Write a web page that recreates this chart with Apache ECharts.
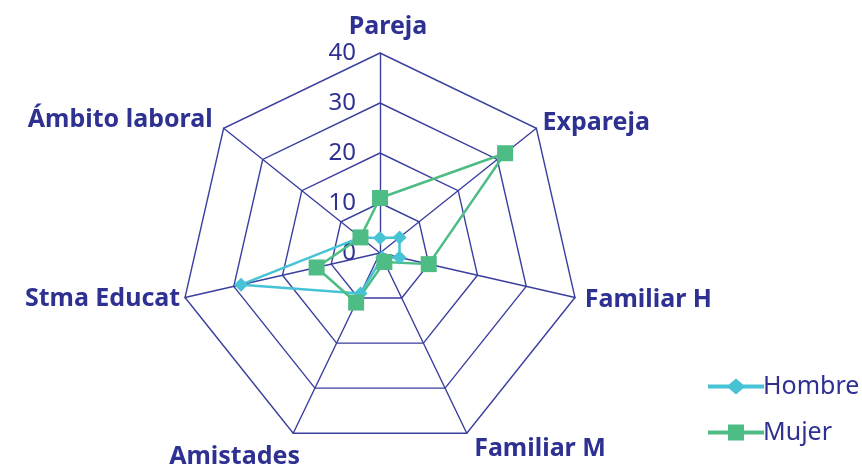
<!DOCTYPE html>
<html>
<head>
<meta charset="utf-8">
<script src="https://cdn.jsdelivr.net/npm/echarts@6/dist/echarts.min.js"></script>
<style>
  html, body { margin: 0; padding: 0; background: #fff; }
  #chart { width: 862px; height: 469px; }
</style>
</head>
<body>
<div id="chart"></div>
<script>
// categories in clockwise order as they appear (starting at the top)
const categories = ["Pareja", "Expareja", "Familiar H", "Familiar M", "Amistades", "Stma Educat", "Ámbito laboral"];
const hombre = [3, 5, 4, 1, 9, 28.5, 5];
const mujer = [11, 32, 10, 2, 11, 13, 5];
const maxValue = 40;

// where each category name sits relative to its spoke end (same clockwise order)
const nameGaps = [14, 8, 10, 17, 26, 5, 14];
const nameAligns = ["center", "left", "left", "left", "right", "right", "right"];
const namePads = [[0, 0, 0, 16], 0, 0, 0, [0, -18, 0, 0], 0, 0];

// echarts draws radar indicators counter-clockwise, so flip everything but the first
const flip = arr => [arr[0]].concat(arr.slice(1).reverse());

const navy = "#2e3192";
const gridColor = "#3b3f9e";
const cyan = "#47c3d6";
const green = "#4dbd85";

const chart = echarts.init(document.getElementById("chart"));

const indicators = categories.map((name, i) => ({
  name: name,
  min: 0,
  max: maxValue,
  nameGap: nameGaps[i],
  nameTextStyle: { align: nameAligns[i], padding: namePads[i] },
  axisLabel: i === 0
    ? { show: true, color: navy, fontSize: 24, fontFamily: "Noto Sans", margin: 24, align: "right", verticalAlign: "middle", showMinLabel: true }
    : { show: false }
}));

chart.setOption({
  animation: false,
  textStyle: { fontFamily: "Noto Sans" },
  legend: {
    orient: "vertical",
    left: 703,
    top: 369,
    itemGap: 21,
    itemWidth: 56,
    itemHeight: 16,
    textStyle: { color: navy, fontSize: 25, fontFamily: "Noto Sans", padding: [0, 0, 0, -6] },
    data: [
      { name: "Hombre", icon: "path://M0,6 L21,6 L28,0 L35,6 L56,6 L56,10 L35,10 L28,16 L21,10 L0,10 Z", itemStyle: { color: cyan } },
      { name: "Mujer", icon: "path://M0,6 L20,6 L20,0 L36,0 L36,6 L56,6 L56,10 L36,10 L36,16 L20,16 L20,10 L0,10 Z", itemStyle: { color: green } }
    ]
  },
  radar: {
    center: [380, 253],
    radius: 200,
    startAngle: 90,
    splitNumber: 4,
    shape: "polygon",
    axisName: {
      color: navy,
      fontSize: 25,
      fontWeight: "bold",
      fontFamily: "Noto Sans"
    },
    splitArea: { show: false },
    splitLine: { lineStyle: { color: gridColor, width: 1.4 } },
    axisLine: { lineStyle: { color: gridColor, width: 1.4 } },
    axisLabel: { show: false },
    indicator: flip(indicators)
  },
  series: [
    {
      type: "radar",
      data: [
        {
          name: "Hombre",
          value: flip(hombre),
          symbol: "diamond",
          symbolSize: 14,
          lineStyle: { color: cyan, width: 2.5 },
          itemStyle: { color: cyan }
        },
        {
          name: "Mujer",
          value: flip(mujer),
          symbol: "rect",
          symbolSize: 16,
          lineStyle: { color: green, width: 2.5 },
          itemStyle: { color: green }
        }
      ]
    }
  ]
});
</script>
</body>
</html>
